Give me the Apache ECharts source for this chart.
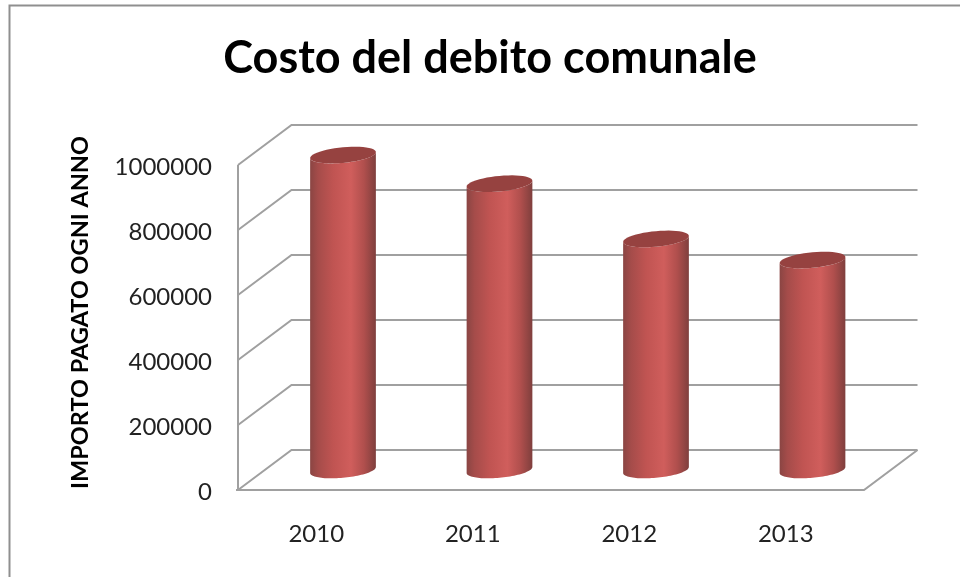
<!DOCTYPE html>
<html>
<head>
<meta charset="utf-8">
<style>html,body{margin:0;padding:0;background:#fff}#c{width:960px;height:577px}</style>
<script src="https://cdn.jsdelivr.net/npm/echarts@6/dist/echarts.min.js"></script>
</head>
<body>
<div id="c"></div>
<script>
var categories = ['2010', '2011', '2012', '2013'];
var costValues = [969000, 881000, 711000, 646000];
var yTicks = [0, 200000, 400000, 600000, 800000, 1000000];
var chartTitle = 'Costo del debito comunale';
var yAxisTitle = 'IMPORTO PAGATO OGNI ANNO';

var DEPTH_X = 53.5, DEPTH_Y = -40, FONT = 'Lato, "Open Sans", sans-serif';
var GRID_COLOR = '#a0a0a0';

function lineEl(pts) {
  return { type: 'polyline', shape: { points: pts },
    style: { fill: null, stroke: GRID_COLOR, lineWidth: 2 } };
}

function renderWalls(params, api) {
  var cs = params.coordSys;
  var y = api.coord([0, api.value(0)])[1];
  var x0 = cs.x, x1 = cs.x + cs.width;
  var children = [lineEl([[x0, y], [x0 + DEPTH_X, y + DEPTH_Y], [x1 + DEPTH_X, y + DEPTH_Y]])];
  if (api.value(0) === 0) {
    children.push(lineEl([[x0 - 2, y], [x1, y], [x1 + DEPTH_X, y + DEPTH_Y]]));
    children.push(lineEl([[x0, y], [x0, cs.y]]));
  }
  return { type: 'group', children: children };
}

function ellipsePts(cx, cy, rx, ry, from, to, tilt) {
  var pts = [], n = 48;
  for (var i = 0; i <= n; i++) {
    var t = from + (to - from) * i / n;
    var ex = rx * Math.cos(t), ey = ry * Math.sin(t);
    pts.push([cx + ex, cy + ey - ex * tilt]);
  }
  return pts;
}

function renderCylinder(params, api) {
  var base = api.coord([api.value(0), 0]);
  var top = api.coord([api.value(0), api.value(1)]);
  var rx = api.size([1, 0])[0] * 0.21, ry = 7.8, tilt = 0.09;
  var cx = base[0] + DEPTH_X / 2, by = base[1] + DEPTH_Y / 2, ty = top[1] + DEPTH_Y / 2;
  var body = ellipsePts(cx, ty, rx, ry, Math.PI, 0, tilt)
    .concat(ellipsePts(cx, by, rx, ry, 0, Math.PI, tilt));
  var grad = new echarts.graphic.LinearGradient(0, 0, 1, 0, [
    { offset: 0, color: '#8a4543' },
    { offset: 0.12, color: '#a54c4a' },
    { offset: 0.35, color: '#c05452' },
    { offset: 0.62, color: '#d05e5c' },
    { offset: 0.82, color: '#b04f4d' },
    { offset: 1, color: '#7f3f3d' }
  ]);
  return { type: 'group', children: [
    { type: 'polygon', shape: { points: body }, style: { fill: grad } },
    { type: 'polygon', shape: { points: ellipsePts(cx, ty, rx, ry, 0, Math.PI * 2, tilt) },
      style: { fill: '#964240' } }
  ] };
}

var chart = echarts.init(document.getElementById('c'), null, { renderer: 'canvas' });
chart.setOption({
  animation: false,
  backgroundColor: '#ffffff',
  title: { text: chartTitle, left: 485, top: 31, textAlign: 'center',
    textStyle: { fontFamily: FONT, fontWeight: 'bold', fontSize: 45, color: '#000' } },
  grid: { left: 238, right: 96, top: 165, bottom: 87 },
  xAxis: { type: 'category', data: categories, boundaryGap: true,
    axisLine: { show: false }, axisTick: { show: false },
    axisLabel: { margin: 32, fontFamily: FONT, fontSize: 24, color: '#222' } },
  yAxis: { type: 'value', min: 0, max: 1000000, interval: 200000,
    name: yAxisTitle, nameLocation: 'middle', nameGap: 146,
    nameTextStyle: { fontFamily: FONT, fontWeight: 'bold', fontSize: 23.5, color: '#000', padding: [0, 0, 0, 30] },
    axisLine: { show: false }, axisTick: { show: false }, splitLine: { show: false },
    axisLabel: { margin: 26, fontFamily: FONT, fontSize: 24, color: '#222', verticalAlign: 'top', lineHeight: 24, padding: [-10, 0, 0, 0],
      formatter: function (v) { return String(v); } } },
  graphic: [
    { type: 'polyline', silent: true, shape: { points: [[9.5, 577], [9.5, 5.5], [960, 5.5]] },
      style: { fill: null, stroke: '#8f8f8f', lineWidth: 2 } }
  ],
  series: [
    { type: 'custom', coordinateSystem: 'cartesian2d', renderItem: renderWalls, clip: false, z: 1,
      encode: { y: 0 }, data: yTicks.map(function (v) { return [v]; }) },
    { type: 'custom', coordinateSystem: 'cartesian2d', renderItem: renderCylinder, clip: false, z: 2,
      encode: { x: 0, y: 1 }, data: costValues.map(function (v, i) { return [i, v]; }) }
  ]
});
</script>
</body>
</html>
